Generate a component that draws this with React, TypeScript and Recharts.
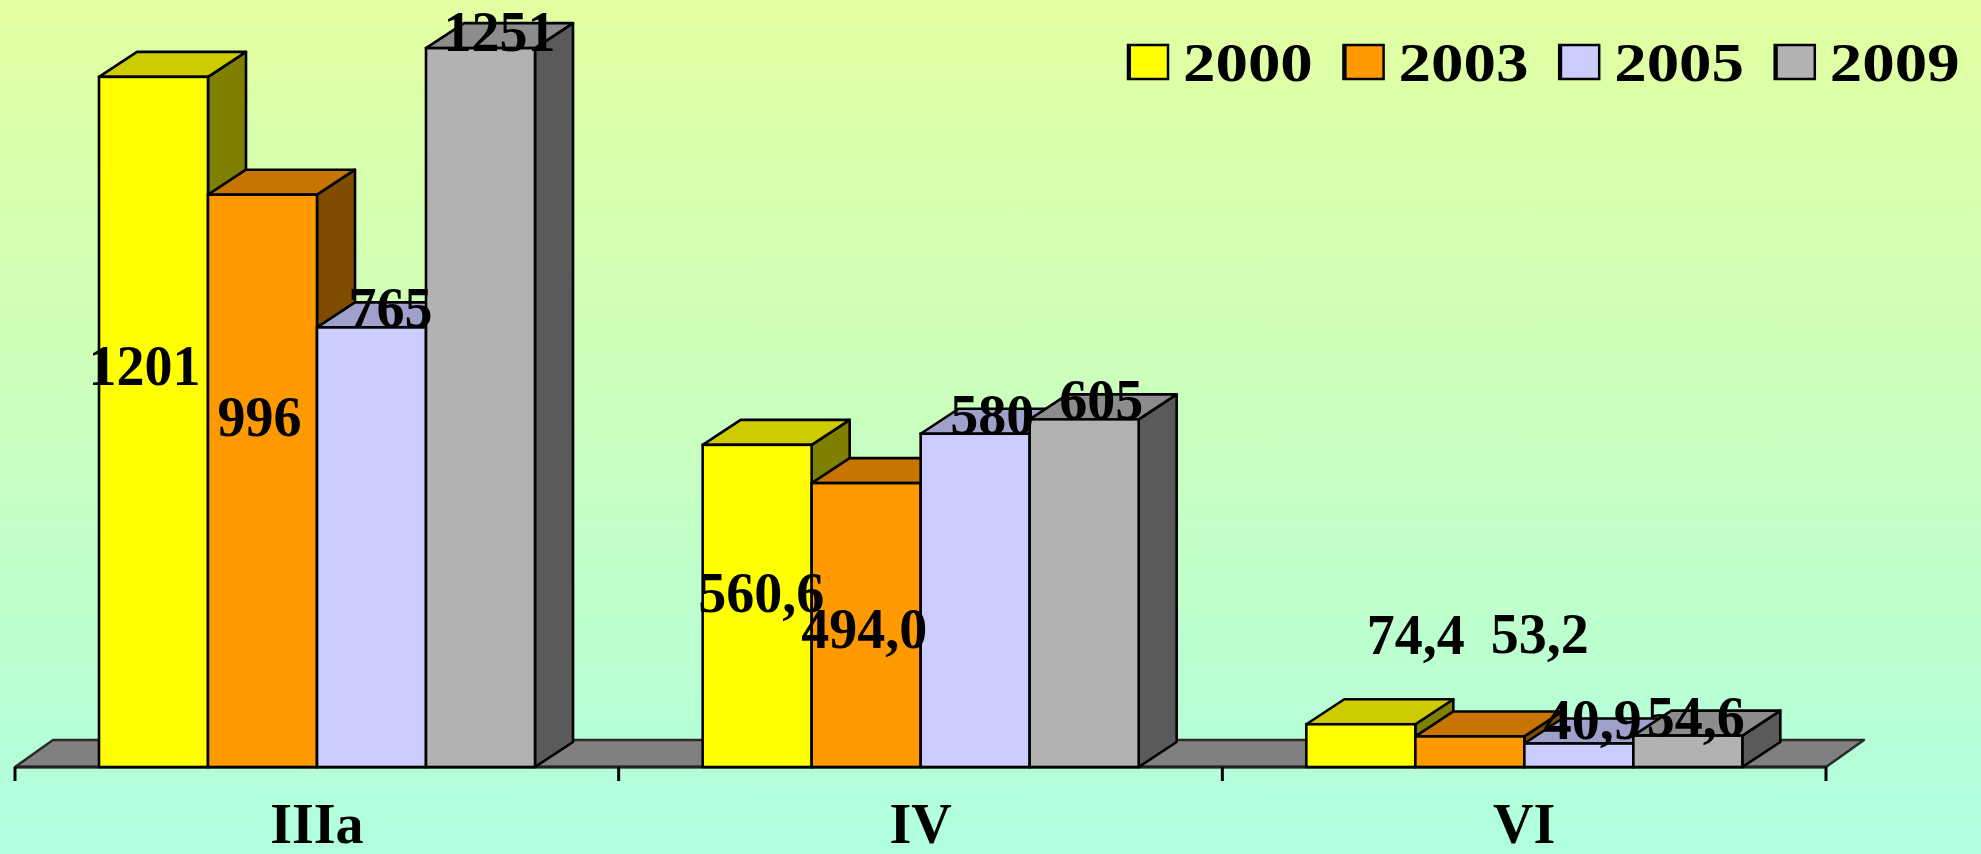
import React from 'react';
import { BarChart, Bar, XAxis, YAxis, Legend, LabelList, ReferenceArea } from 'recharts';

// ---- data ----
const categories = ['IIIa', 'IV', 'VI'];
const years = ['2000', '2003', '2005', '2009'];
const values2000 = [1201, 560.6, 74.4];
const values2003 = [996, 494.0, 53.2];
const values2005 = [765, 580, 40.9];
const values2009 = [1251, 605, 54.6];
// decimals shown in the value labels
const decimals2000 = [0, 1, 1];
const decimals2003 = [0, 1, 1];
const decimals2005 = [0, 0, 1];
const decimals2009 = [0, 0, 1];

// ---- layout / style (not data) ----
const W = 1981;
const H = 854;
const DX = 38; // 3D depth, horizontal
const DY = 25; // 3D depth, vertical
const FONT = "'Liberation Serif', 'Times New Roman', serif";

// label shifts (px) relative to the default anchor on top of each bar
const shift2000 = [[-28, 308], [-15, 167], [36, -70]];
const shift2003 = [[-22, 241], [-21, 165], [51, -83]];
const shift2005 = [[0, 0], [-2, 0], [-5, -4]];
const shift2009 = [[0, 3], [-2, 0], [-11, 0]];

const series = [
  { key: 'y2000', name: years[0], values: values2000, dec: decimals2000, shift: shift2000, front: '#ffff00', top: '#cccc00', side: '#808000' },
  { key: 'y2003', name: years[1], values: values2003, dec: decimals2003, shift: shift2003, front: '#ff9900', top: '#c87400', side: '#7f4c00' },
  { key: 'y2005', name: years[2], values: values2005, dec: decimals2005, shift: shift2005, front: '#ccccff', top: '#a0a0cc', side: '#666680' },
  { key: 'y2009', name: years[3], values: values2009, dec: decimals2009, shift: shift2009, front: '#b2b2b2', top: '#8c8c8c', side: '#5a5a5a' },
];

const data = categories.map((cat, i) => {
  const row: any = { cat };
  series.forEach((s) => { row[s.key] = s.values[i]; });
  return row;
});

const SW = 2.6;

const makeBarShape = (s: any) => (props: any) => {
  const { x, y, width, height } = props;
  if (x == null || y == null) return null;
  const w = width, h = height;
  const topPts = `${x},${y} ${x + DX},${y - DY} ${x + w + DX},${y - DY} ${x + w},${y}`;
  const sidePts = `${x + w},${y} ${x + w + DX},${y - DY} ${x + w + DX},${y + h - DY} ${x + w},${y + h}`;
  return (
    <g>
      <polygon points={sidePts} fill={s.side} stroke="#000" strokeWidth={SW} strokeLinejoin="round" />
      <polygon points={topPts} fill={s.top} stroke="#000" strokeWidth={SW} strokeLinejoin="round" />
      <rect x={x} y={y} width={w} height={h} fill={s.front} stroke="#000" strokeWidth={SW} />
    </g>
  );
};

const makeLabel = (s: any) => (props: any) => {
  const vb = props.viewBox || {};
  const x = props.x != null ? props.x : vb.x;
  const y = props.y != null ? props.y : vb.y;
  const width = props.width != null ? props.width : vb.width;
  const idx = props.index;
  if (x == null || y == null || idx == null) return null;
  const v = s.values[idx];
  const txt = v.toFixed(s.dec[idx]).replace('.', ',');
  const [sx, sy] = s.shift[idx];
  const cx = x + width / 2 + DX / 2 + sx;
  const by = y + sy;
  return (
    <text x={cx} y={by} textAnchor="middle" fontFamily={FONT} fontWeight="bold" fontSize={56} fill="#000">
      {txt}
    </text>
  );
};

const FloorShape = (props: any) => {
  const { x, y, width, height } = props;
  if (x == null) return null;
  const base = y + height;
  const x0 = x;
  const x1 = x + width;
  const dyF = 27;
  const pts = `${x0},${base} ${x0 + DX},${base - dyF} ${x1 + DX},${base - dyF} ${x1},${base}`;
  const n = categories.length;
  const ticks = [];
  for (let i = 0; i <= n; i++) {
    const tx = x0 + (width * i) / n;
    ticks.push(<line key={i} x1={tx} y1={base} x2={tx} y2={base + 14} stroke="#000" strokeWidth={3} />);
  }
  return (
    <g>
      <polygon points={pts} fill="#808080" stroke="#2a2a2a" strokeWidth={2.5} strokeLinejoin="round" />
      <line x1={x0} y1={base} x2={x1} y2={base} stroke="#222" strokeWidth={3} />
      {ticks}
    </g>
  );
};

const renderTick = (props: any) => {
  const { x, y, payload } = props;
  return (
    <text x={x} y={y + 76} textAnchor="middle" fontFamily={FONT} fontWeight="bold" fontSize={56} fill="#000">
      {payload.value}
    </text>
  );
};

const renderLegend = (props: any) => {
  const payload = props.payload || [];
  const stride = 215.6;
  return (
    <svg width={860} height={100} style={{ display: 'block', overflow: 'visible' }}>
      {payload.map((entry: any, i: number) => {
        const bx = i * stride;
        return (
          <g key={i}>
            <rect x={bx + 1} y={45} width={40} height={34} fill={entry.color} stroke="#000" strokeWidth={2.5} />
            <line x1={bx + 2} y1={45} x2={bx + 2} y2={80} stroke="#000" strokeWidth={4} />
            <text
              x={0}
              y={81}
              transform={`translate(${bx + 56},0) scale(1.18,1)`}
              fontFamily={FONT}
              fontWeight="bold"
              fontSize={55}
              fill="#000"
            >
              {entry.value}
            </text>
          </g>
        );
      })}
    </svg>
  );
};

export default function App() {
  return (
    <div
      style={{
        position: 'absolute',
        left: 0,
        top: 0,
        width: W,
        height: H,
        background: 'linear-gradient(to bottom, #e2ffa0 0%, #c9ffbf 50%, #afffe0 100%)',
        overflow: 'hidden',
      }}
    >
      <BarChart
        width={W}
        height={H}
        data={data}
        margin={{ top: 20, right: 155, bottom: 0, left: 15 }}
        barCategoryGap={84}
        barGap={0}
      >
        <XAxis
          dataKey="cat"
          height={87}
          axisLine={false}
          tickLine={false}
          tickSize={0}
          tickMargin={0}
          interval={0}
          tick={renderTick}
        />
        <YAxis hide domain={[0, 1300]} />
        <ReferenceArea y1={0} y2={0.01} ifOverflow="visible" shape={FloorShape} />
        <Legend
          layout="horizontal"
          verticalAlign="middle"
          align="center"
          content={renderLegend}
          wrapperStyle={{ left: 1127, top: 0, width: 860, height: 100 }}
        />
        {series.map((s) => (
          <Bar
            key={s.key}
            dataKey={s.key}
            name={s.name}
            fill={s.front}
            isAnimationActive={false}
            shape={makeBarShape(s)}
          >
            <LabelList dataKey={s.key} content={makeLabel(s)} />
          </Bar>
        ))}
      </BarChart>
    </div>
  );
}
